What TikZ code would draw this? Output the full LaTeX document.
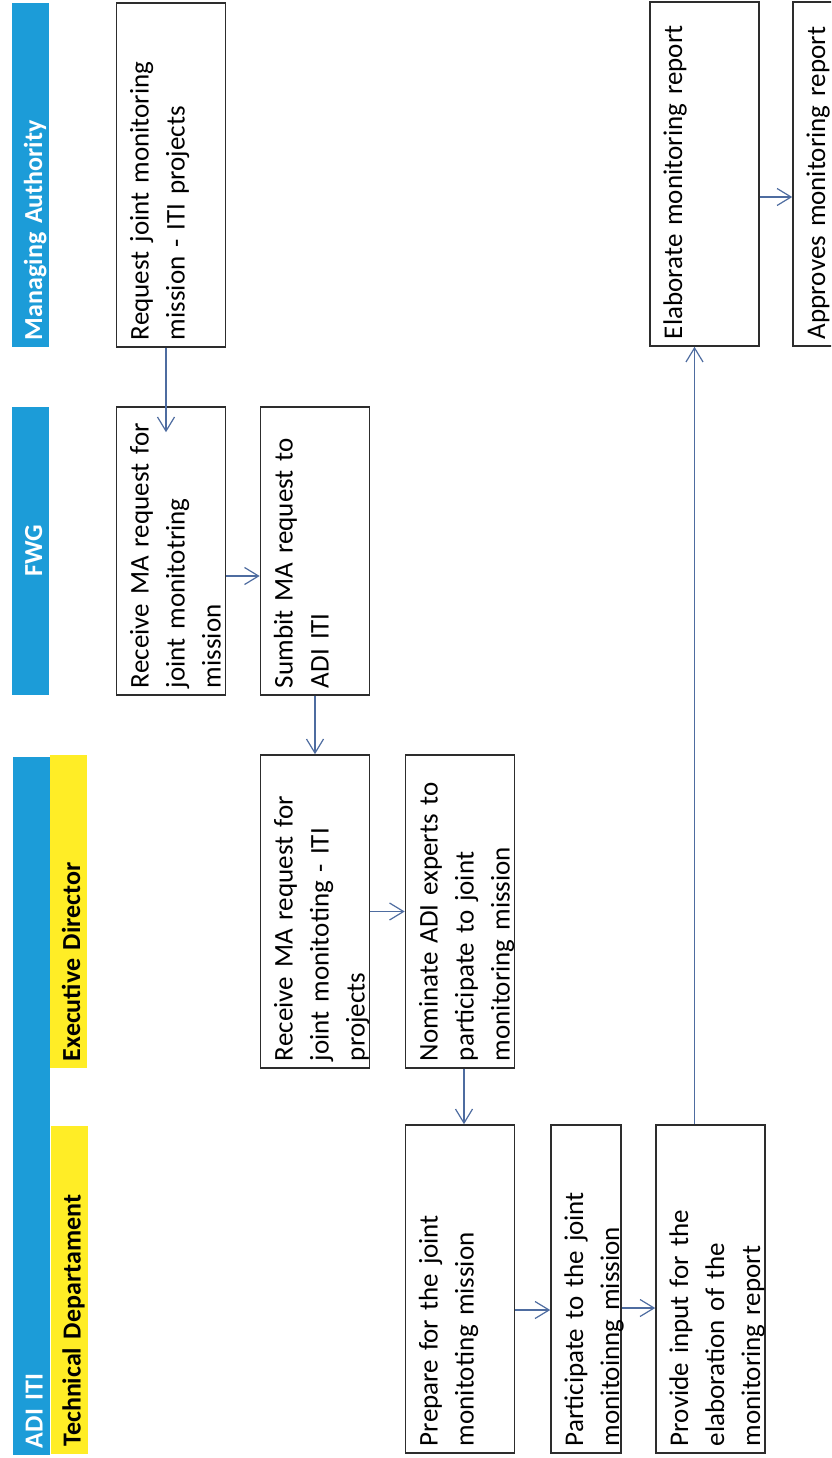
\documentclass[tikz,border=0pt]{standalone}
\usepackage{fontspec}
\setmainfont{Carlito}
\usepackage{tikz}
\usetikzlibrary{arrows.meta, positioning}
\definecolor{laneblue}{RGB}{28,156,216}
\definecolor{laneyellow}{RGB}{255,237,38}
\definecolor{flowblue}{RGB}{78,108,160}
\definecolor{boxgray}{RGB}{45,45,45}
\tikzstyle{lanehead} = [
	rotate=90,
	inner xsep=7pt,
	inner ysep=2pt,
	text height=28pt,
	text depth=5pt,
	font=\fontsize{26}{30}\selectfont\bfseries
]
\tikzstyle{activity} = [
	rectangle,
	rotate=90,
	draw=boxgray,
	line width=1.6pt,
	fill=white,
	inner xsep=7pt,
	inner ysep=6pt,
	text height=26pt,
	text depth=71pt,
	align=left,
	font=\fontsize{27}{36}\selectfont
]
\tikzstyle{shortactivity} = [
	activity,
	text depth=32pt
]
\tikzstyle{malane} = [minimum width=344pt, text width=330pt, align=left]
\tikzstyle{fwglane} = [minimum width=288pt, text width=274pt, align=left]
\tikzstyle{edlane} = [minimum width=313pt, text width=299pt, align=left]
\tikzstyle{tdlane} = [minimum width=328pt, text width=314pt, align=left]
\tikzstyle{arrow} = [line width=1.2pt, draw=flowblue, ->, >={Straight Barb[length=14pt,width=17pt]}]
\begin{document}
\begin{tikzpicture}[x=1pt, y=-1pt]

		\useasboundingbox (0,0) rectangle (831,1458);
		\clip (0,0) rectangle (831,1458);
		\fill [white] (0,0) rectangle (831,1458);

		% lane headers
		\node (mahead) [lanehead, malane, fill=laneblue, text=white] at (30.5,175) {Managing Authority};
		\node (fwghead) [lanehead, fwglane, align=center, fill=laneblue, text=white] at (30.5,551) {FWG};
		\node (adihead) [lanehead, minimum width=698pt, text width=684pt, align=left, fill=laneblue, text=white] at (31,1106) {ADI ITI};
		\node (edhead) [lanehead, edlane, fill=laneyellow] at (68.5,911.5) {Executive Director};
		\node (tdhead) [lanehead, tdlane, fill=laneyellow] at (69,1289.5) {Technical Departament};

		\node (request) [activity, malane] at (171,175) {Request joint monitoring\\mission - ITI projects};
		\node (elaborate) [activity, malane] at (704.5,174) {Elaborate monitoring report};
		\node (approves) [shortactivity, malane] at (828,174) {Approves monitoring report};

		\node (fwgreceive) [activity, fwglane] at (171,551) {Receive MA request for\\joint monitotring\\mission};
		\node (submit) [activity, fwglane] at (315,551) {Sumbit MA request to\\ADI ITI};

		\node (edreceive) [activity, edlane] at (315,911.5) {Receive MA request for\\joint monitoting - ITI\\projects};
		\node (nominate) [activity, edlane] at (460,911.5) {Nominate ADI experts to\\participate to joint\\monitoring mission};

		\node (prepare) [activity, tdlane] at (460,1289) {Prepare for the joint\\monitoting mission};
		\node (participate) [shortactivity, tdlane] at (586,1289) {Participate to the joint\\monitoinng mission};
		\node (provide) [activity, tdlane] at (710.5,1289) {Provide input for the\\elaboration of the\\monitoring report};

		\draw [arrow] ([xshift=-5pt]request.west) -- ([xshift=-5pt,yshift=-26pt]fwgreceive.east);
		\draw [arrow] ([yshift=-25pt]fwgreceive.south) -- ([yshift=-25pt]submit.north);
		\draw [arrow] (submit) -- (edreceive);
		\draw [arrow] (edreceive) -- (nominate);
		\draw [arrow] ([xshift=4pt]nominate.west) -- ([xshift=4pt]prepare.east);
		\draw [arrow] ([yshift=-21pt]prepare.south) -- ([yshift=-21pt]participate.north);
		\draw [arrow] ([yshift=-19pt]participate.south) -- ([yshift=-19pt]provide.north);
		\draw [arrow] ([xshift=-16pt]provide.east) -- ([xshift=-10pt]elaborate.west);
		\draw [arrow] ([yshift=-23pt]elaborate.south) -- ([yshift=-23pt]approves.north);
	\end{tikzpicture}
\end{document}
